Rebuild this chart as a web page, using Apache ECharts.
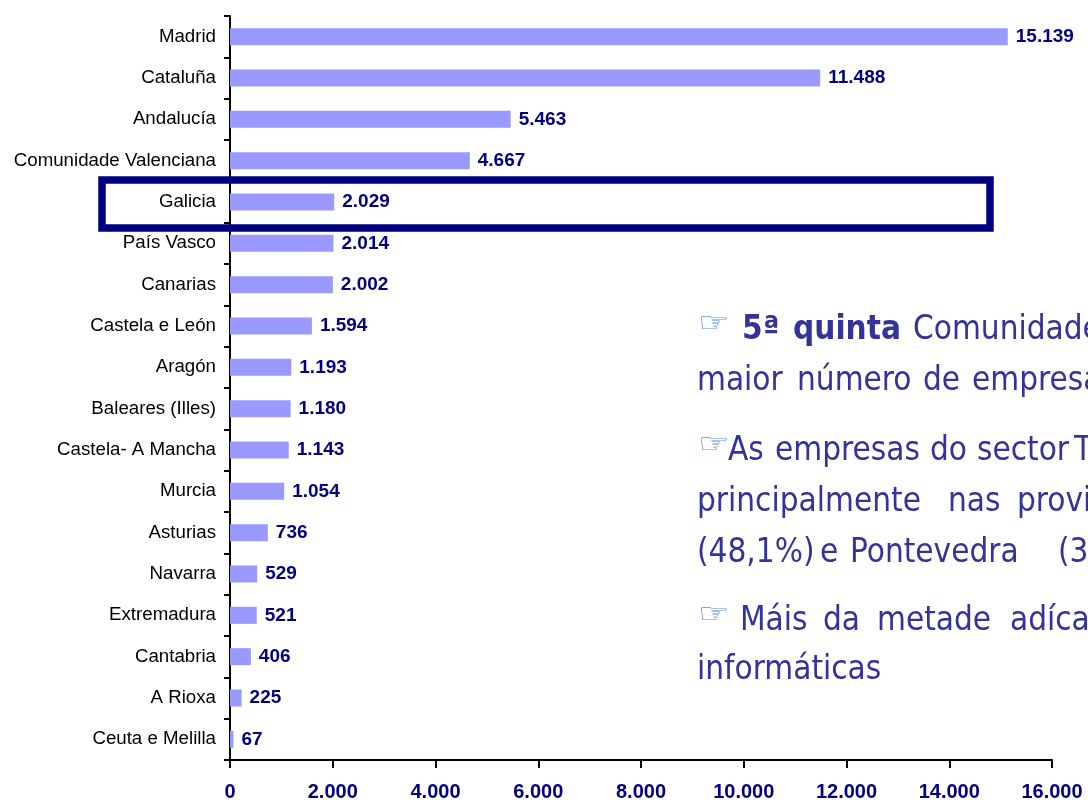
<!DOCTYPE html>
<html>
<head>
<meta charset="utf-8">
<script src="https://cdn.jsdelivr.net/npm/echarts@6/dist/echarts.min.js"></script>
<style>
  html, body { margin: 0; padding: 0; background: #fff; }
  #main { width: 1088px; height: 802px; }
</style>
</head>
<body>
<div id="main"></div>
<script>
// comunidades, de arriba a abaixo
var comunidades = ['Madrid', 'Cataluña', 'Andalucía', 'Comunidade Valenciana', 'Galicia', 'País Vasco',
  'Canarias', 'Castela e León', 'Aragón', 'Baleares (Illes)', 'Castela- A Mancha', 'Murcia',
  'Asturias', 'Navarra', 'Extremadura', 'Cantabria', 'A Rioxa', 'Ceuta e Melilla'];
// número de empresas
var empresas = [15139, 11488, 5463, 4667, 2029, 2014, 2002, 1594, 1193, 1180, 1143, 1054,
  736, 529, 521, 406, 225, 67];
// eixo X
var eixoMin = 0;
var eixoMax = 16000;
var eixoPaso = 2000;

// texto da dereita: [texto, x, liña base, tipo]
var man = '\u261E';
var notas = [
  [man, 698, 337, 'man'], ['5ª', 742, 337, true], ['quinta', 793, 337, true], ['Comunidade', 913, 337],
  ['maior', 697, 388], ['número', 797, 388], ['de', 923, 388], ['empresas', 972, 388],
  [man, 698, 458, 'man'], ['As', 728, 458], ['empresas', 775, 458], ['do', 930, 458], ['sector', 977, 458], ['TIC', 1074, 458],
  ['principalmente', 697, 509], ['nas', 948, 509], ['provincias', 1017, 509],
  ['(48,1%)', 697, 560], ['e', 820, 560], ['Pontevedra', 850, 560], ['(35', 1058, 560],
  [man, 698, 628, 'man'], ['Máis', 740, 628], ['da', 823, 628], ['metade', 877, 628], ['adícanse', 1010, 628],
  ['informáticas', 697, 677]
];

function miles(v) {
  return String(v).replace(/\B(?=(\d{3})+(?!\d))/g, '.');
}

var chart = echarts.init(document.getElementById('main'));

var grafico = [];
notas.forEach(function (n) {
  var esMan = n[3] === 'man';
  var fs = esMan ? 28 : 33;
  grafico.push({
    type: 'text',
    x: n[1],
    y: esMan ? n[2] - 12 : n[2] - 7,
    scaleX: esMan ? 1.4 : 1,
    z: 10,
    style: {
      text: n[0],
      fill: esMan ? '#5f8be0' : '#333399',
      font: (n[3] === true ? 'bold ' : '') + fs + 'px "DejaVu Sans Condensed", "DejaVu Sans", sans-serif',
      textAlign: 'left',
      textVerticalAlign: 'middle'
    }
  });
});
// recadro de Galicia
grafico.push({
  type: 'rect',
  z: 10,
  shape: { x: 102, y: 180, width: 888, height: 48 },
  style: { fill: 'none', stroke: '#000080', lineWidth: 7.5 }
});

var option = {
  backgroundColor: '#ffffff',
  animation: false,
  textStyle: { fontFamily: 'Liberation Sans, Arial, sans-serif' },
  grid: { left: 230, right: 36, top: 16, bottom: 40, containLabel: false },
  xAxis: {
    type: 'value',
    min: eixoMin,
    max: eixoMax,
    interval: eixoPaso,
    axisLine: { show: true, lineStyle: { color: '#000', width: 2 } },
    axisTick: { show: true, length: 8, lineStyle: { color: '#000', width: 2 } },
    splitLine: { show: false },
    axisLabel: {
      margin: 22,
      color: '#000080',
      fontWeight: 'bold',
      fontSize: 20,
      formatter: function (v) { return miles(v); }
    }
  },
  yAxis: {
    type: 'category',
    inverse: true,
    data: comunidades,
    axisLine: { show: true, lineStyle: { color: '#000', width: 2 } },
    axisTick: { show: true, length: 6, lineStyle: { color: '#000', width: 2 } },
    axisLabel: { margin: 14, color: '#000', fontSize: 18.7 }
  },
  series: [{
    type: 'bar',
    data: empresas,
    barWidth: 17,
    itemStyle: { color: '#9999ff' },
    label: {
      show: true,
      position: 'right',
      distance: 8,
      color: '#000080',
      fontWeight: 'bold',
      fontSize: 19,
      formatter: function (p) { return miles(p.value); }
    }
  }],
  graphic: grafico
};

chart.setOption(option);
</script>
</body>
</html>
